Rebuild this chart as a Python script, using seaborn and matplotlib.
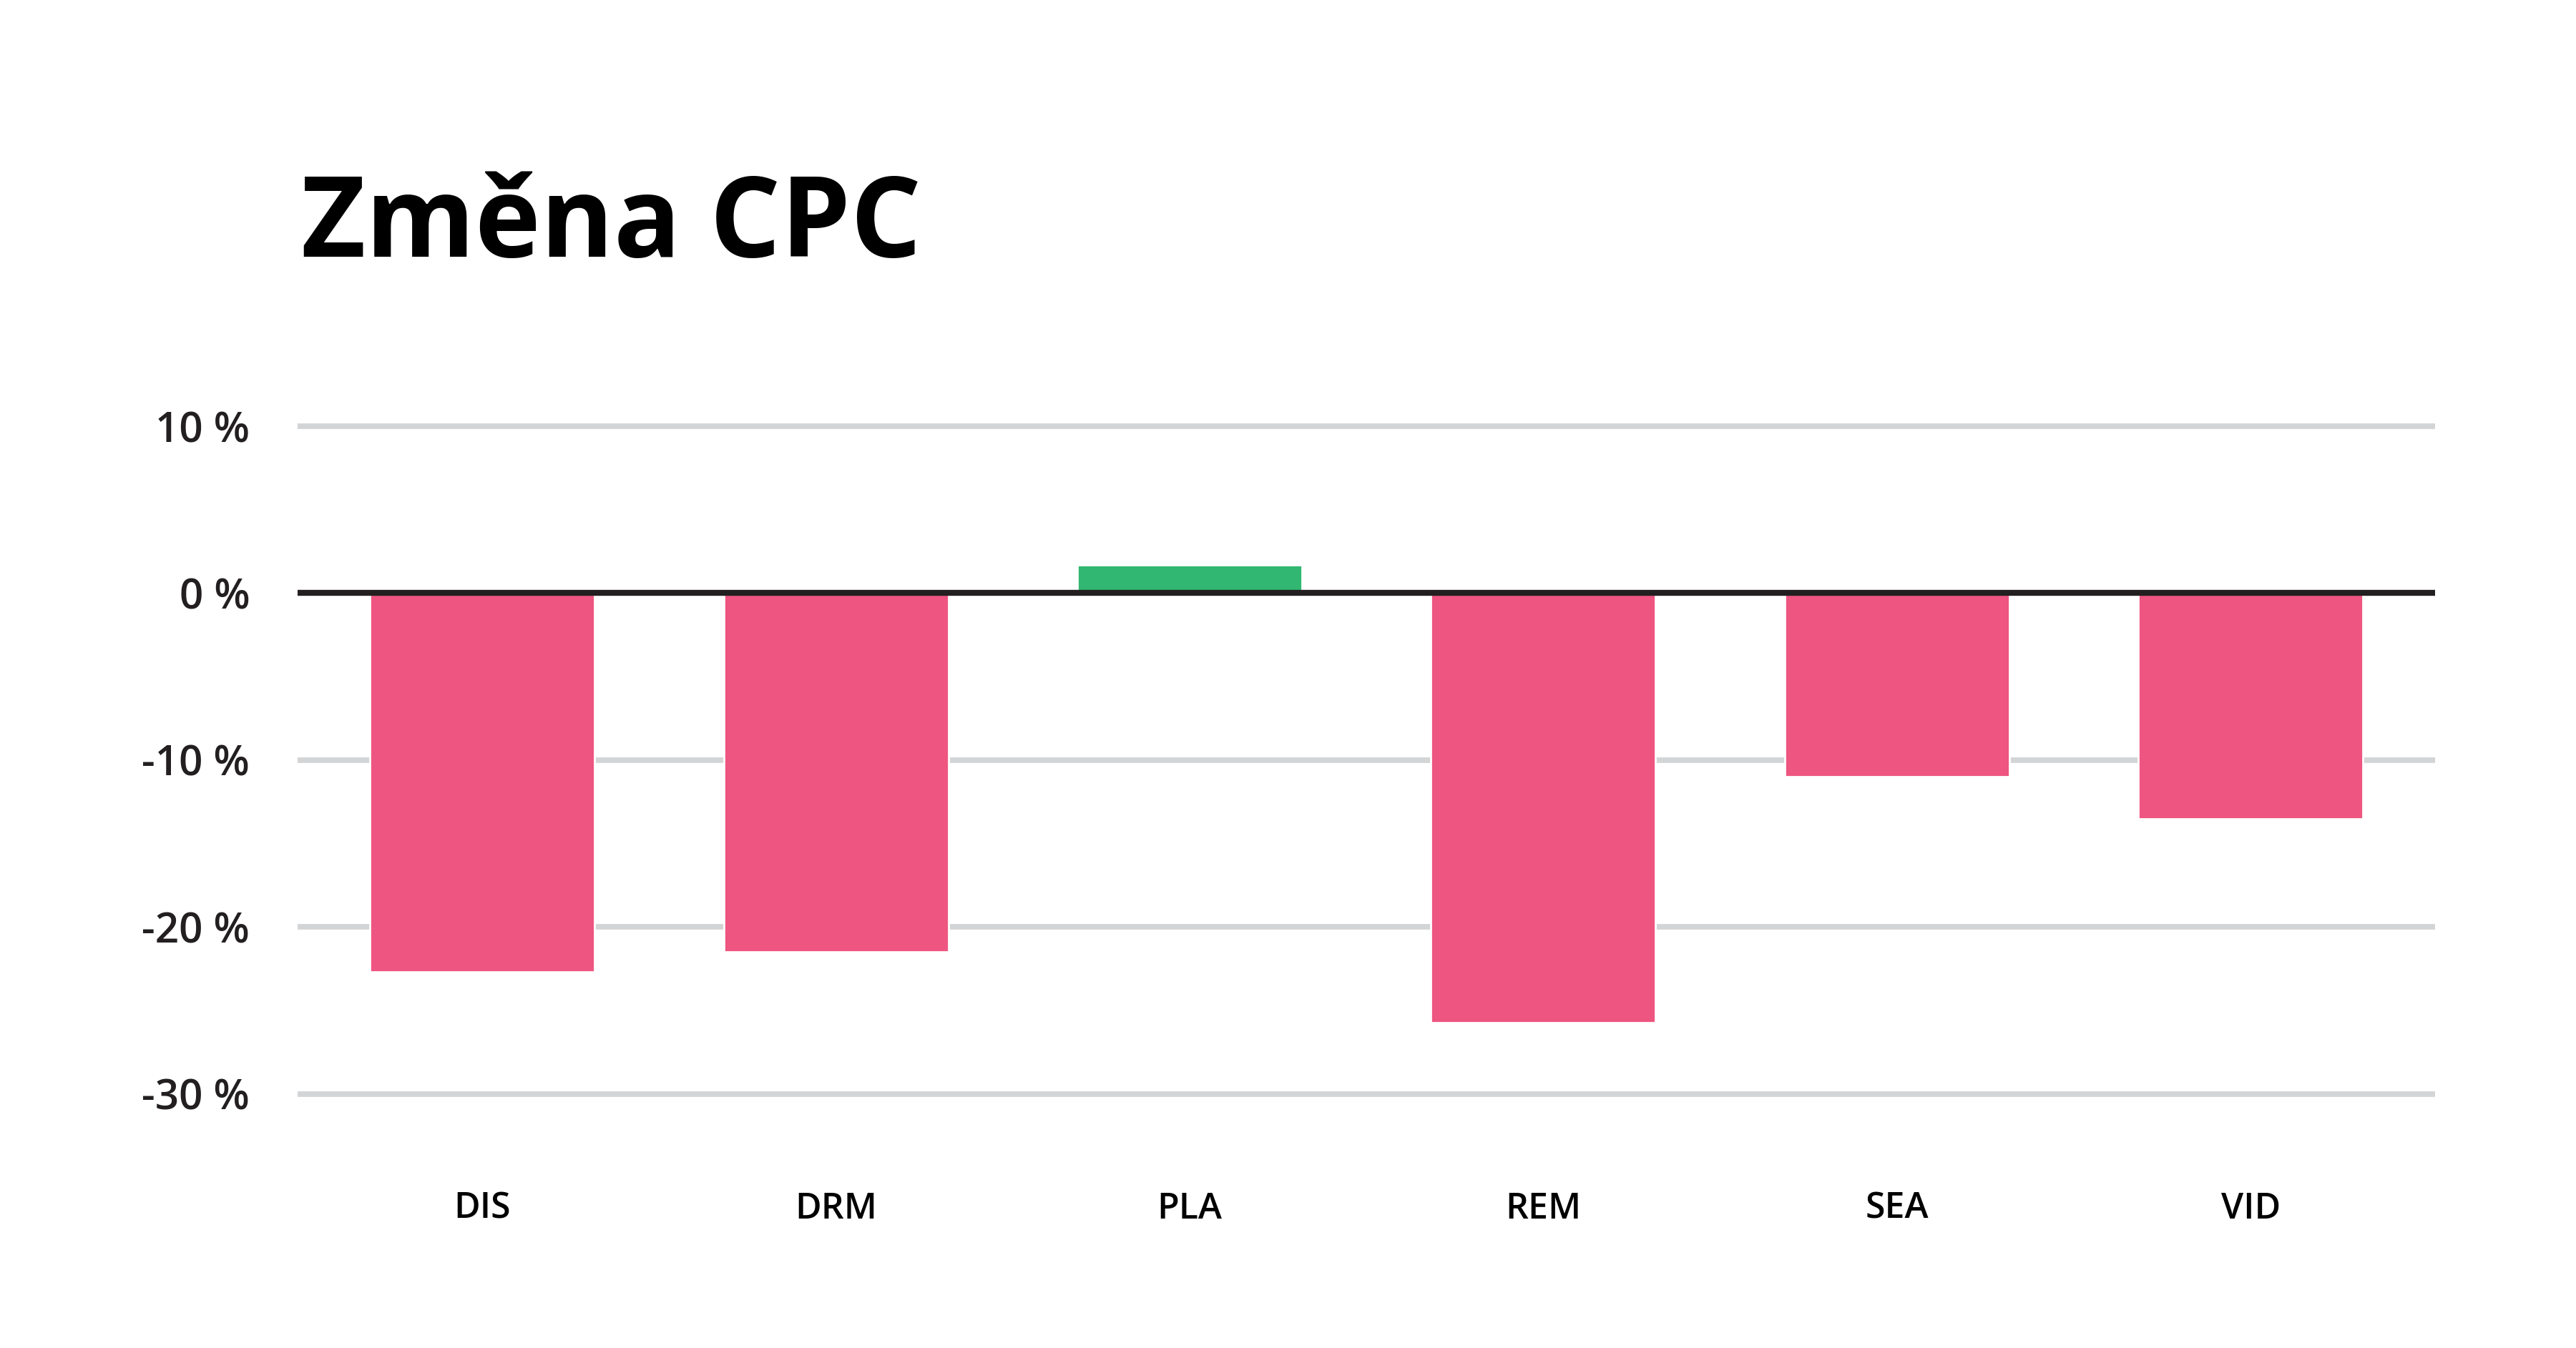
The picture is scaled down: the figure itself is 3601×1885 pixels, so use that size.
import pandas as pd
import seaborn as sns
from matplotlib import pyplot as plt

# values (percent change)
categories = ["DIS", "DRM", "PLA", "REM", "SEA", "VID"]
changes = [-22.7, -21.5, 1.7, -25.7, -11.0, -13.5]
y_ticks = [10, 0, -10, -20, -30]
y_tick_labels = ["10 %", "0 %", "-10 %", "-20 %", "-30 %"]

PINK = "#ee5580"
GREEN = "#31b771"
GRID = "#d3d4d6"
DARK = "#231f20"

sns.set_theme(style="white")
plt.rcParams["font.family"] = ["Open Sans", "DejaVu Sans"]

df = pd.DataFrame({"cat": categories, "change": changes})
palette = {c: (GREEN if v > 0 else PINK) for c, v in zip(categories, changes)}

fig = plt.figure(figsize=(18.005, 9.425), dpi=200)
ax = fig.add_axes([0.1155, 0.1636, 0.8298, 0.5326])

sns.barplot(data=df, x="cat", y="change", hue="cat", palette=palette,
            width=0.635, saturation=1, legend=False, ax=ax)

ax.set_xlim(-0.522, 5.521)
ax.set_ylim(-32, 11)
ax.set_yticks(y_ticks)
ax.set_yticklabels(y_tick_labels)

# light gridlines behind the bars, dark zero line on top
ax.set_axisbelow(True)
for v in y_ticks:
    if v != 0:
        ax.axhline(v, color=GRID, lw=2.8, solid_capstyle="round", zorder=0)
ax.axhline(0, color=DARK, lw=3, solid_capstyle="round", zorder=5)

for s in ax.spines.values():
    s.set_visible(False)
ax.tick_params(axis="y", length=0, pad=24, labelsize=21, labelcolor=DARK)
ax.tick_params(axis="x", length=0, pad=32, labelsize=18, labelcolor="black")
for lab in ax.get_xticklabels() + ax.get_yticklabels():
    lab.set_fontweight("semibold")
ax.set_xlabel("")
ax.set_ylabel("")

fig.text(0.117, 1 - 359 / 1885, "Změna CPC", fontsize=56, fontweight="bold",
         color="black", ha="left", va="baseline")

fig.savefig("out.png", dpi=200, facecolor="white")
